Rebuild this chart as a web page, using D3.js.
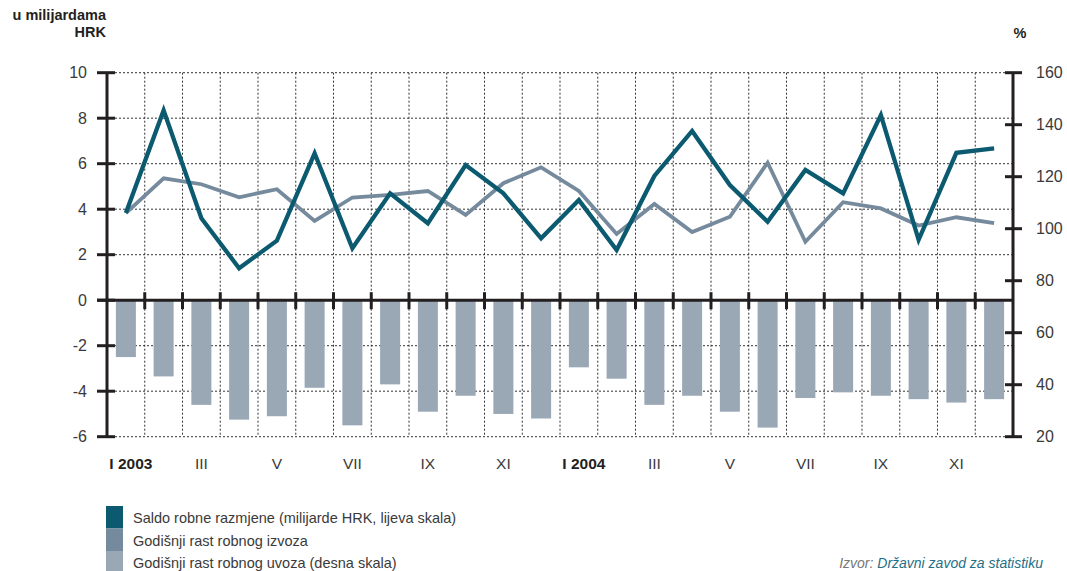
<html>
<head>
<meta charset="utf-8">
<script src="https://d3js.org/d3.v7.min.js"></script>
<style>
  body { margin: 0; background: #fff; }
  text { font-family: "Liberation Sans", Arial, sans-serif; fill: #3a3a3a; }
  .bold { font-weight: bold; fill: #231f20; }
</style>
</head>
<body>
<svg width="1067" height="571" id="chart"></svg>
<script>

// months, Jan 2003 .. Dec 2004 (only every second one is labelled)
var months = ["I 2003","II","III","IV","V","VI","VII","VIII","IX","X","XI","XII",
              "I 2004","II","III","IV","V","VI","VII","VIII","IX","X","XI","XII"];

// bars, left scale (hang from zero)
var barValues = [-2.5,-3.35,-4.6,-5.25,-5.1,-3.85,-5.5,-3.7,-4.9,-4.2,-5.0,-5.2,
                 -2.95,-3.45,-4.6,-4.2,-4.9,-5.6,-4.3,-4.05,-4.2,-4.35,-4.5,-4.35];
// dark line, right scale
var darkLine = [106,145.5,104,84.8,95.4,129,92.5,113.6,102.1,124.5,113.6,96.3,
                111,91.8,120.3,137.6,116.8,102.7,122.6,113.6,143.7,95.7,129.2,130.9];
// grey line, right scale
var greyLine = [106,119.4,117.1,112.1,115.2,103,112,113,114.5,105.3,117.5,123.6,
                114.5,98,109.5,98.7,104.6,125.4,95,110.2,107.8,101.2,104.4,102.1];

var leftTicks = [10,8,6,4,2,0,-2,-4,-6];
var rightTicks = [160,140,120,100,80,60,40,20];

var legendNames = ["Saldo robne razmjene (milijarde HRK, lijeva skala)",
                   "Godišnji rast robnog izvoza",
                   "Godišnji rast robnog uvoza (desna skala)"];
var legendColors = ["#0b5a70","#758a9c","#9aa7b5"];

var pl = 107, pr = 1013, pt = 72.7, pb = 436.7;
var svg = d3.select("#chart");
var idx = d3.range(months.length);

var x = d3.scaleBand().domain(idx).range([pl, pr]).paddingInner(0.47).paddingOuter(0.235);
var band = x.step();
var xc = function(i) { return x(i) + x.bandwidth() / 2; };
var yL = d3.scaleLinear().domain([-6,10]).range([pb, pt]);
var yR = d3.scaleLinear().domain([20,160]).range([pb, pt]);

// grid
var grid = svg.append("g").attr("stroke","#333").attr("stroke-width",1).attr("stroke-dasharray","2,2");
grid.selectAll("line.h").data(leftTicks).enter().append("line")
  .attr("x1",pl).attr("x2",pr)
  .attr("y1",function(d){return yL(d);}).attr("y2",function(d){return yL(d);});
grid.selectAll("line.v").data(d3.range(1,months.length)).enter().append("line")
  .attr("x1",function(d){return pl+band*d;}).attr("x2",function(d){return pl+band*d;})
  .attr("y1",pt).attr("y2",pb);

// bars
svg.append("g").selectAll("rect").data(barValues).enter().append("rect")
  .attr("x",function(d,i){return x(i);})
  .attr("width",x.bandwidth())
  .attr("y",yL(0))
  .attr("height",function(d){return yL(d)-yL(0);})
  .attr("fill","#9aa7b5");

// lines
var line = d3.line().x(function(d,i){return xc(i);}).y(function(d){return yR(d);});
svg.append("path").datum(greyLine).attr("d",line)
  .attr("fill","none").attr("stroke","#758a9c").attr("stroke-width",3.8);
svg.append("path").datum(darkLine).attr("d",line)
  .attr("fill","none").attr("stroke","#0b5a70").attr("stroke-width",4.3);

// axes
var ax = svg.append("g").attr("stroke","#231f20").attr("stroke-width",3);
ax.append("line").attr("x1",pl).attr("x2",pl).attr("y1",pt).attr("y2",pb);
ax.append("line").attr("x1",pr).attr("x2",pr).attr("y1",pt).attr("y2",pb);
ax.append("line").attr("x1",pl-10).attr("x2",pr).attr("y1",yL(0)).attr("y2",yL(0));
ax.selectAll("line.lt").data(leftTicks).enter().append("line")
  .attr("x1",pl-10).attr("x2",pl+8)
  .attr("y1",function(d){return yL(d);}).attr("y2",function(d){return yL(d);});
ax.selectAll("line.rt").data(rightTicks).enter().append("line")
  .attr("x1",pr-8).attr("x2",pr+9)
  .attr("y1",function(d){return yR(d);}).attr("y2",function(d){return yR(d);});
ax.selectAll("line.xt").data(d3.range(1,months.length)).enter().append("line")
  .attr("x1",function(d){return pl+band*d;}).attr("x2",function(d){return pl+band*d;})
  .attr("y1",yL(0)-8).attr("y2",yL(0)+9);

// tick labels
svg.append("g").selectAll("text").data(leftTicks).enter().append("text")
  .attr("x",87).attr("y",function(d){return yL(d);}).attr("dy","0.35em")
  .attr("text-anchor","end").style("font-size","16px")
  .text(function(d){return d;});
svg.append("g").selectAll("text").data(rightTicks).enter().append("text")
  .attr("x",1036).attr("y",function(d){return yR(d);}).attr("dy","0.35em")
  .style("font-size","16px")
  .text(function(d){return d;});
svg.append("g").selectAll("text").data(idx.filter(function(i){return i % 2 === 0;})).enter()
  .append("text")
  .attr("x",function(i){return xc(i) + (months[i].indexOf(" ")>0 ? 5 : 0);})
  .attr("y",469).attr("text-anchor","middle")
  .attr("class",function(i){return months[i].indexOf(" ")>0 ? "bold" : null;})
  .style("font-size","15.5px")
  .text(function(i){return months[i];});

// unit labels
svg.append("text").attr("class","bold").attr("x",106).attr("y",20).attr("text-anchor","end")
  .style("font-size","14.5px").text("u milijardama");
svg.append("text").attr("class","bold").attr("x",106).attr("y",37).attr("text-anchor","end")
  .style("font-size","14.5px").text("HRK");
svg.append("text").attr("class","bold").attr("x",1020).attr("y",38).attr("text-anchor","middle")
  .style("font-size","14.5px").text("%");

// legend
var lg = svg.append("g");
lg.selectAll("rect").data(legendNames).enter().append("rect")
  .attr("x",106).attr("y",function(d,i){return 506+i*22.5;})
  .attr("width",17).attr("height",22.5)
  .attr("fill",function(d,i){return legendColors[i];});
lg.selectAll("text").data(legendNames).enter().append("text")
  .attr("x",133).attr("y",function(d,i){return 523+i*22.5;})
  .style("font-size","14.5px")
  .text(function(d){return d;});

// source
var src = svg.append("text").attr("x",1043).attr("y",568).attr("text-anchor","end")
  .style("font-size","14px").style("font-style","italic");
src.append("tspan").style("fill","#777").text("Izvor: ");
src.append("tspan").style("fill","#1f6f86").text("Državni zavod za statistiku");

</script>
</body>
</html>
